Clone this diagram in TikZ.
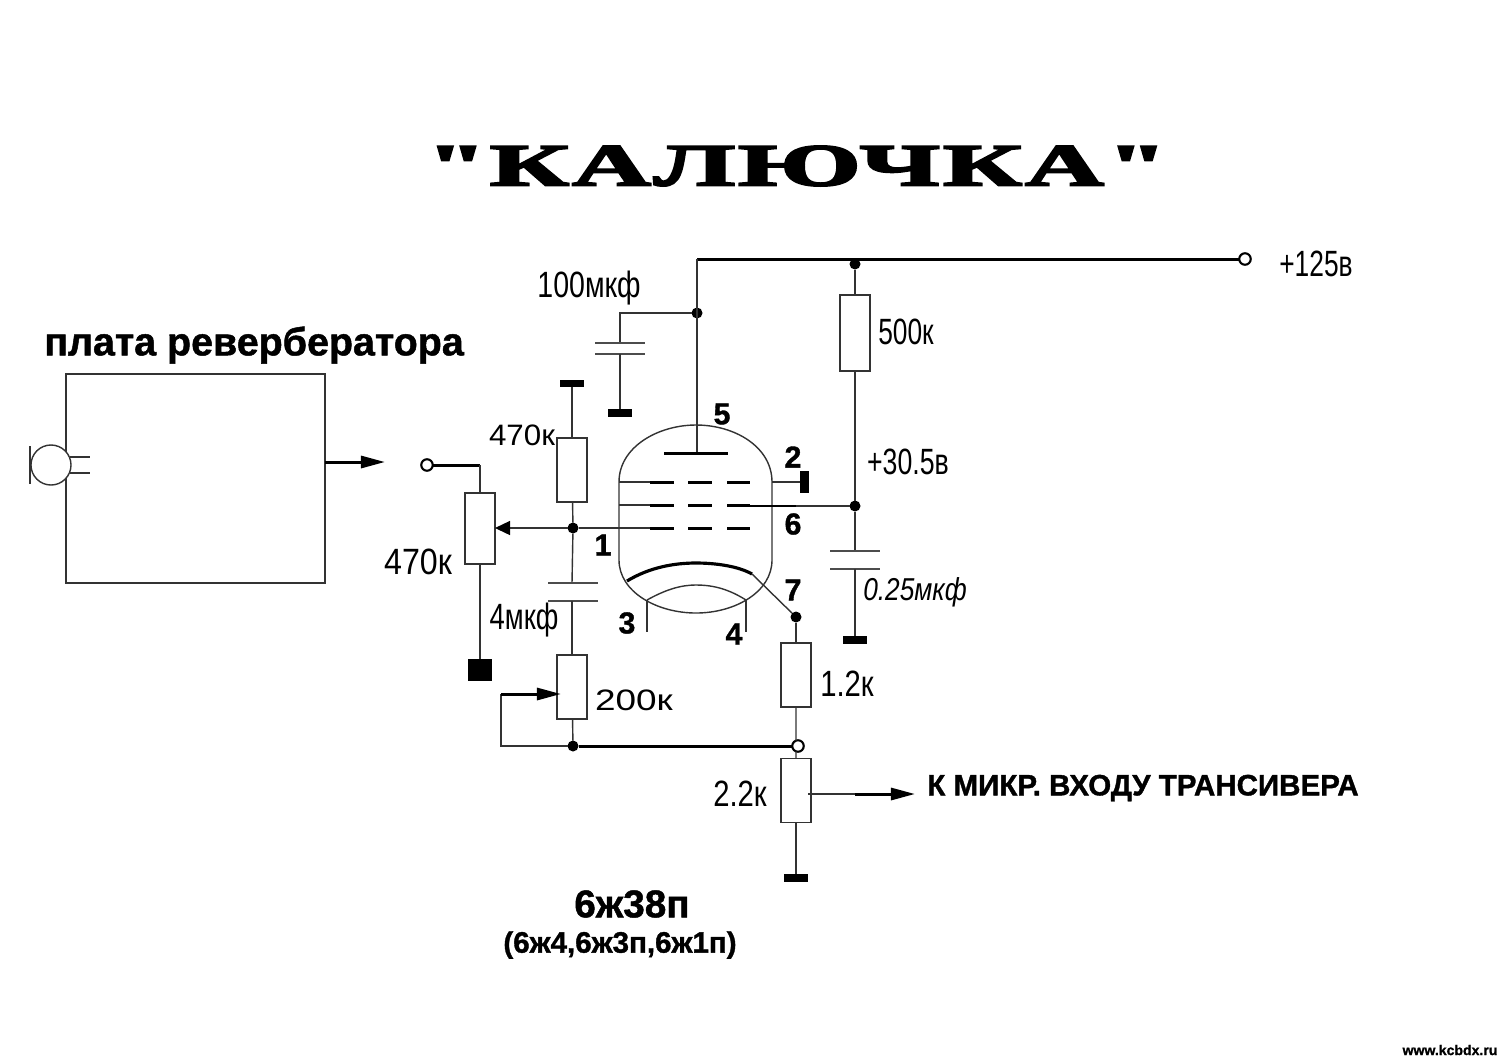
\documentclass[tikz,border=0pt]{standalone}
\usepackage{fontspec}
\setmainfont[BoldFeatures={FakeBold=1.2}]{Liberation Sans}
\newfontfamily\titlefont[BoldFeatures={FakeBold=3},LetterSpace=3]{Liberation Serif}
\usetikzlibrary{arrows.meta}
\newcommand{\squeezed}[2]{\scalebox{#1}[1]{#2}}
\tikzset{
  thinwire/.style={line width=0.4pt,black!80},
  thickwire/.style={line width=0.85pt,black},
  resbox/.style={draw=black!80,line width=0.4pt,minimum width=0.3cm,minimum height=0.64cm,inner sep=0pt,outer sep=0pt},
  dotnode/.style={circle,fill=black,minimum size=0.11cm,inner sep=0pt,outer sep=0pt},
  opennode/.style={circle,draw=black,fill=white,line width=0.6pt,minimum size=0.115cm,inner sep=0pt,outer sep=0pt},
  gndbar/.style={fill=black,minimum width=0.24cm,minimum height=0.08cm,inner sep=0pt,outer sep=0pt},
  lbl/.style={inner sep=0pt,font=\fontsize{10.4pt}{12pt}\selectfont},
  smalllbl/.style={inner sep=0pt,font=\fontsize{8.4pt}{10pt}\selectfont},
  pinlbl/.style={inner sep=0pt,font=\fontsize{8.6pt}{10pt}\selectfont\bfseries},
  bigtip/.style={-{Triangle[length=0.24cm,width=0.12cm]}},
  wipertip/.style={-{Triangle[length=0.15cm,width=0.14cm,color=black]}},
  plate/.style={line width=0.45pt,black!70}
}
\begin{document}
\begin{tikzpicture}[x=0.01cm,y=-0.01cm]
  \useasboundingbox (0,0) rectangle (1500,1060);
  % Titles
  \node[inner sep=0pt,font=\titlefont\bfseries\fontsize{17pt}{18pt}\selectfont] (title) at (797,166) {\scalebox{1.82}[1]{"КАЛЮЧКА"}};
  \node[inner sep=0pt,font=\bfseries\fontsize{11.2pt}{12pt}\selectfont] (boardname) at (254,345) {плата ревербератора};
  \node[inner sep=0pt,font=\bfseries\fontsize{11pt}{12pt}\selectfont] (tubename) at (632,904) {6ж38п};
  \node[inner sep=0pt,font=\bfseries\fontsize{8.4pt}{10pt}\selectfont] (tubesubst) at (620,945) {(6ж4,6ж3п,6ж1п)};
  \node[inner sep=0pt,font=\bfseries\fontsize{8.4pt}{10pt}\selectfont] (outname) at (1143,788) {К МИКР. ВХОДУ ТРАНСИВЕРА};
  \node[inner sep=0pt,font=\bfseries\fontsize{4pt}{5pt}\selectfont] (site) at (1450,1050) {www.kcbdx.ru};
  % Reverberator board and microphone
  \node[draw=black!80,line width=0.4pt,minimum width=2.59cm,minimum height=2.09cm,inner sep=0pt,outer sep=0pt] (board) at (195.5,478.5) {};
  \node[circle,draw=black!80,fill=white,line width=0.4pt,minimum size=0.4cm,inner sep=0pt] (mic) at (51,465) {};
  \draw[thinwire] (30,446) -- (30,484);
  \draw[thinwire] (mic.-23) -- ++(20,0);
  \draw[thinwire] (mic.23) -- ++(20,0);
  % Resistors
  \node[resbox] (inpot) at (480,528.5) [minimum height=0.71cm] {};
  \node[resbox] (rgrid) at (572,470) {};
  \node[resbox] (rpot) at (572,687) {};
  \node[resbox] (rcath) at (796,675) {};
  \node[resbox] (rout) at (796,790.5) {};
  \node[resbox] (rscreen) at (855,333) [minimum height=0.76cm] {};
  % Terminals, junctions, ground
  \node[opennode] (inpin) at (427,465) {};
  \node[opennode] (plus) at (1245,259) {};
  \node[opennode] (outjoin) at (798,746) {};
  \node[dotnode] (top) at (855,264) {};
  \node[dotnode] (anode) at (697,313) {};
  \node[dotnode] (gridjoin) at (573,528) {};
  \node[dotnode] (screen) at (855,506) {};
  \node[dotnode] (cath) at (796,617) {};
  \node[dotnode] (potjoin) at (573,746) {};
  \node[gndbar] (gndbyp) at (620,413) {};
  \node[gndbar,minimum height=0.07cm] (gndgrid) at (572,383) {};
  \node[gndbar,minimum height=0.22cm] (gndin) at (480,670) {};
  \node[gndbar] (gndscreen) at (855,640) {};
  \node[gndbar] (gndout) at (796,878) {};
  \node[fill=black,minimum width=0.09cm,minimum height=0.22cm,inner sep=0pt,outer sep=0pt] (gndg3) at (804,482) {};
  % Free ends
  \coordinate (anodetop) at (697,259);
  \coordinate (plate) at (697,453);
  \coordinate (bypcorner) at (620,314);
  \coordinate (cgridA) at (572,583);
  \coordinate (cgridB) at (572,601);
  \coordinate (cscrA) at (855,551);
  \coordinate (cscrB) at (855,569);
  \coordinate (cbypA) at (620,343);
  \coordinate (cbypB) at (620,354);
  \coordinate (inbend) at (480,465);
  \coordinate (fbcorner) at (501,746);
  \coordinate (fbup) at (501,694);
  \coordinate (fbhead) at (539,694);
  \coordinate (boardout) at (325,462);
  \coordinate (boardtip) at (385,462);
  \coordinate (outmid) at (855,794);
  \coordinate (outtip) at (915,794);
  \coordinate (cathend) at (752,574);
  % Supply wiring
  \draw[thickwire] (anodetop) -- (plus);
  \draw[thinwire] (anodetop) -- (plate);
  \draw[thinwire] (anode) -- (anode -| bypcorner) -- (cbypA);
  \draw[plate] (595,343) -- (645,343) (595,354) -- (645,354);
  \draw[thinwire] (cbypB) -- (gndbyp);
  \draw[thinwire] (top) -- (rscreen);
  \draw[thinwire] (rscreen) -- (screen);
  \draw[thinwire] (screen) -- (cscrA);
  \draw[plate] (830,551) -- (880,551) (830,569) -- (880,569);
  \draw[thinwire] (cscrB) -- (gndscreen);
  % Input wiring
  \draw[thickwire,bigtip] (boardout) -- (boardtip);
  \draw[thickwire] (inpin) -- (inbend);
  \draw[thinwire] (inbend) -- (inpot);
  \draw[thinwire] (inpot) -- (gndin);
  \draw[thinwire,wipertip] (gridjoin) -- (inpot.east |- gridjoin);
  \draw[thinwire] (gndgrid) -- (rgrid);
  \draw[thinwire] (rgrid) -- (gridjoin);
  \draw[thinwire] (gridjoin) -- (cgridA);
  \draw[plate] (548,583) -- (598,583) (548,601) -- (598,601);
  \draw[thinwire] (cgridB) -- (rpot);
  \draw[thinwire] (rpot) -- (potjoin);
  \draw[thinwire] (potjoin) -- (fbcorner) -- (fbup);
  \draw[thickwire] (fbup) -- (fbhead);
  \draw[thickwire,bigtip] (fbhead) -- (561,694);
  \draw[thickwire] (potjoin) -- (outjoin);
  % Output wiring
  \draw[thinwire] (cath) -- (rcath);
  \draw[thinwire] (rcath.south) -- (outjoin.110);
  \draw[thinwire] (outjoin.-110) -- (rout.north);
  \draw[thinwire] (rout) -- (gndout);
  \draw[thinwire] (808,794) -- (outmid);
  \draw[thickwire,bigtip] (outmid) -- (outtip);
  % Tube envelope
  \draw[thinwire] (619,482) .. controls (619,447) and (658,425) .. (696,425) .. controls (735,425) and (772,447) .. (772,482) -- (772,560) .. controls (772,592) and (735,613) .. (696,613) .. controls (657,613) and (619,592) .. (619,560) -- cycle;
  % Tube electrodes
  \draw[line width=0.9pt] (664,453.5) -- (728,453.5);
  \foreach \yg in {482,505,528} {
    \draw[line width=0.85pt] (650,\yg) -- (674,\yg) (688,\yg) -- (712,\yg) (727,\yg) -- (750,\yg);
  }
  \draw[thinwire] (619,482) -- (650,482);
  \draw[thinwire] (619,505) -- (650,505);
  \draw[thinwire] (gridjoin) -- (650,528);
  \draw[thinwire] (772,482) -- (gndg3);
  \draw[line width=0.6pt] (750,506) -- (796,506);
  \draw[thinwire] (796,506) -- (screen);
  \draw[line width=0.9pt] (627,581) .. controls (650,567) and (675,563) .. (696,563) .. controls (715,563) and (738,566) .. (752,574);
  \draw[thinwire] (cathend) -- (cath);
  \draw[thinwire] (647,600) .. controls (665,590) and (680,585) .. (696,585) .. controls (715,585) and (730,590) .. (746,600);
  \draw[thinwire] (647,600) -- (647,632);
  \draw[thinwire] (746,600) -- (746,632);
  % Pin numbers
  \node[pinlbl] (pinfive) at (722,414) {5};
  \node[pinlbl] (pintwo) at (793,457) {2};
  \node[pinlbl] (pinsix) at (793,524) {6};
  \node[pinlbl] (pinone) at (603,545) {1};
  \node[pinlbl] (pinseven) at (793,590) {7};
  \node[pinlbl] (pinthree) at (627,623) {3};
  \node[pinlbl] (pinfour) at (734,634) {4};
  % Part values
  \node[lbl] (vbyp) at (589,288) {\squeezed{.78}{100мкф}};
  \node[lbl] (vscreen) at (906,332) {\squeezed{.72}{500к}};
  \node[smalllbl] (vgrid) at (522,435) {\squeezed{1.06}{470к}};
  \node[lbl] (vin) at (418,562) {\squeezed{.88}{470к}};
  \node[lbl] (vcap) at (524,620) {\squeezed{.75}{4мкф}};
  \node[smalllbl] (vpot) at (634,700) {\squeezed{1.25}{200к}};
  \node[lbl] (vcath) at (847,684) {\squeezed{.8}{1.2к}};
  \node[lbl] (vout) at (740,794) {\squeezed{.8}{2.2к}};
  \node[lbl] (vplus) at (1316,264) {\squeezed{.72}{+125в}};
  \node[lbl] (vmid) at (908,462) {\squeezed{.73}{+30.5в}};
  \node[inner sep=0pt,font=\itshape\fontsize{9pt}{10pt}\selectfont] (vscap) at (915,592) {\squeezed{.83}{0.25мкф}};
\end{tikzpicture}
\end{document}
